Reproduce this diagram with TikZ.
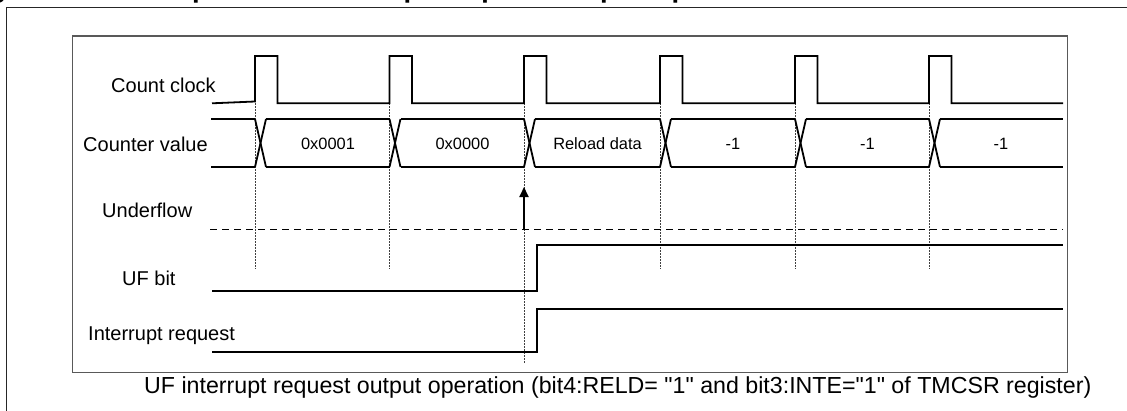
\documentclass[tikz,border=0pt]{standalone}
\usepackage{fontspec}
\setmainfont{Liberation Sans}[Ligatures=TeXOff]
\usetikzlibrary{arrows.meta}
\begin{document}
\begin{tikzpicture}[x=1pt,y=-1pt,
  sig/.style={line width=1.8pt, line join=miter},
  lbl/.style={font=\fontsize{20}{24}\selectfont, inner sep=0pt, anchor=base west},
  val/.style={font=\fontsize{16.4}{20}\selectfont, inner sep=0pt, anchor=base},
  guide/.style={line width=0.9pt, dash pattern=on 1.5pt off 1.5pt, black!75},
  uline/.style={line width=1.5pt, dash pattern=on 7pt off 5pt},
  frameA/.style={line width=1.4pt, black!85},
  frameB/.style={line width=1.2pt, black!65},
 ]
\useasboundingbox (0,0) rectangle (1127,410);
% cut-off title
\node[anchor=base west, font=\bfseries\fontsize{27.4}{32}\selectfont, inner sep=0pt] (title) at (-35,-3) {Figure 6-12 Example of UF Interrupt Request Output Operation};
% frames
\draw[frameA] (6.5,420) -- (6.5,7.5) -- (1140,7.5);
\draw[frameB] (72.7,36) rectangle (1067.7,372.7);
% labels
\node[lbl] (lclk) at (111,92) {Count clock};
\node[lbl] (lcnt) at (83,151) {Counter value};
\node[lbl] (lund) at (102,217) {Underflow};
\node[lbl] (luf) at (122,285) {UF bit};
\node[lbl] (lirq) at (88,340) {Interrupt request};
% guides (dotted)
\foreach \e/\b in {255/269,389.5/269,524/363,660/269,795/269,929/269}
  \draw[guide] (\e,103) -- (\e,\b);
% count clock
\draw[sig] (212,103.3) -- (255,101.5) -- (255,56) -- (277.5,56) -- (277.5,103.3)
  -- (389.5,103.3) -- (389.5,56) -- (412,56) -- (412,103.3)
  -- (524,103.3) -- (524,56) -- (546.5,56) -- (546.5,103.3)
  -- (660,103.3) -- (660,56) -- (682.5,56) -- (682.5,103.3)
  -- (795,103.3) -- (795,56) -- (817.5,56) -- (817.5,103.3)
  -- (929,103.3) -- (929,56) -- (951.5,56) -- (951.5,103.3)
  -- (1063,103.3);
% counter value bus
\draw[sig] (211,119) -- (255,119);
\draw[sig] (211,167) -- (255,167);
\foreach \e/\n in {255/389.5,389.5/524,524/660,660/795,795/929,929/1063}{
  \draw[sig] (\e,119) -- ({\e+11},167);
  \draw[sig] (\e,167) -- ({\e+11},119);
  \draw[sig] ({\e+11},119) -- (\n,119);
  \draw[sig] ({\e+11},167) -- (\n,167);
}
\node[val] (v1) at (328,149) {0x0001};
\node[val] (v2) at (462.5,149) {0x0000};
\node[val] (v3) at (597.5,149) {Reload data};
\node[val] (v4) at (733,149) {-1};
\node[val] (v5) at (867.5,149) {-1};
\node[val] (v6) at (1001,149) {-1};
% underflow
\draw[uline] (210,229.3) -- (1063,229.3);
\coordinate (ufa) at (524,229.3);
\coordinate (ufb) at (524,187);
\draw[line width=1.8pt, -{Triangle[width=9pt,length=10pt]}] (ufa) -- (ufb);
% UF bit
\draw[sig] (212,291) -- (536.7,291) -- (536.7,245) -- (1063,245);
% interrupt request
\draw[sig] (212,351.7) -- (536.7,351.7) -- (536.7,309.3) -- (1063,309.3);
% caption
\node[lbl, font=\fontsize{23.2}{27}\selectfont] (cap) at (144,393.5) {UF interrupt request output operation (bit4:RELD= "1" and bit3:INTE="1" of TMCSR register)};
\end{tikzpicture}
\end{document}
